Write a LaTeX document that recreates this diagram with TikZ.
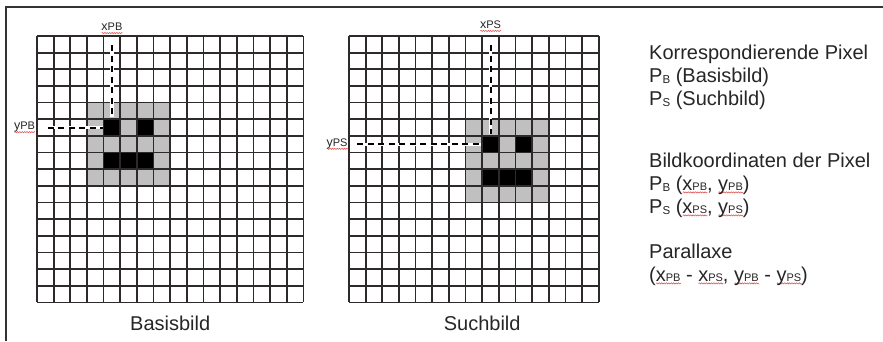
\documentclass[tikz,border=0pt]{standalone}
\usepackage{fontspec}
\setmainfont{Liberation Sans}
\usetikzlibrary{decorations.pathmorphing}
\definecolor{gridc}{HTML}{2E2A2A}
\definecolor{cellgray}{HTML}{C0C0C0}
\definecolor{framec}{HTML}{333333}
\definecolor{txtc}{HTML}{262626}
\definecolor{wavec}{HTML}{E05050}
\newsavebox\wvbox
\newdimen\wvw
\newcommand\wv[1]{\sbox\wvbox{#1}\wvw=\wd\wvbox\relax\rlap{\raisebox{-2.4pt}{\tikz[x=1pt,y=1pt,baseline=0pt]{\draw[draw=wavec, line width=0.55pt, decorate, decoration={snake, amplitude=0.6pt, segment length=2.4pt}] (0,0) -- (\wvw,0);}}}\usebox\wvbox}
\newcommand\sbs[1]{{\fontsize{11}{11}\selectfont #1}}
\newcommand\lsb[1]{\raisebox{-1.5pt}{\fontsize{11.5}{11.5}\selectfont #1}}
\tikzset{
  gridline/.style={draw=gridc, line width=1.7pt},
  grayfill/.style={fill=cellgray},
  blackfill/.style={fill=black},
  dashline/.style={draw=black, line width=2pt, dash pattern=on 6pt off 4.5pt},
  dashbg/.style={draw=white, line width=3.4pt},
  frameline/.style={draw=framec, line width=1.3pt},
  maintext/.style={font=\fontsize{20}{20}\selectfont, text=txtc, inner sep=0pt, anchor=base west},
  captext/.style={font=\fontsize{20}{20}\selectfont, text=txtc, inner sep=0pt, anchor=base},
  axlabel/.style={font=\fontsize{12.5}{12.5}\selectfont, text=txtc, inner sep=0pt}
}
\newcommand\cs{16.65}
\begin{document}
\begin{tikzpicture}[x=1pt,y=-1pt]
\useasboundingbox (0,0) rectangle (883,341);
\fill[white] (0,0) rectangle (883,341);
\draw[frameline] (6,341) -- (6,7) -- (883,7);

% ---------- Basisbild grid ----------
\begin{scope}[shift={(37,36)}, x=\cs pt, y=-\cs pt]
  \fill[grayfill] (3,4) rectangle (8,9);
  \fill[blackfill] (4,5) rectangle (5,6);
  \fill[blackfill] (6,5) rectangle (7,6);
  \fill[blackfill] (4,7) rectangle (7,8);
  \foreach \i in {0,...,16} {\draw[gridline] (\i,0) -- (\i,16);}
  \foreach \j in {0,...,16} {\draw[gridline] (0,\j) -- (16,\j);}
  \coordinate (bvs) at (4.5,0.55);
  \coordinate (bve) at (4.5,4.88);
  \coordinate (bhs) at (0.65,5.5);
  \coordinate (bhe) at (3.95,5.5);
  \node[axlabel] (xpb) at (4.5,-0.45) {\wv{x\sbs{PB}}};
  \node[axlabel] (ypb) at (-0.75,5.5) {\wv{y\sbs{PB}}};
  \node[captext] (cb) at (8,17.7) {Basisbild};
\end{scope}
\draw[dashbg] (bvs) -- (bve);
\draw[dashline] (bvs) -- (bve);
\draw[dashbg] (bhs) -- (bhe);
\draw[dashline] (bhs) -- (bhe);

% ---------- Suchbild grid ----------
\begin{scope}[shift={(349,36)}, x=\cs pt, y=-\cs pt]
  \fill[grayfill] (7,5) rectangle (12,10);
  \fill[blackfill] (8,6) rectangle (9,7);
  \fill[blackfill] (10,6) rectangle (11,7);
  \fill[blackfill] (8,8) rectangle (11,9);
  \foreach \i in {0,...,15} {\draw[gridline] (\i,0) -- (\i,16);}
  \foreach \j in {0,...,16} {\draw[gridline] (0,\j) -- (15,\j);}
  \coordinate (svs) at (8.5,0.55);
  \coordinate (sve) at (8.5,5.88);
  \coordinate (shs) at (0.5,6.5);
  \coordinate (she) at (7.95,6.5);
  \node[axlabel] (xps) at (8.5,-0.58) {\wv{x\sbs{PS}}};
  \node[axlabel] (yps) at (-0.72,6.5) {\wv{y\sbs{PS}}};
  \node[captext] (cs) at (8,17.7) {Suchbild};
\end{scope}
\draw[dashbg] (svs) -- (sve);
\draw[dashline] (svs) -- (sve);
\draw[dashbg] (shs) -- (she);
\draw[dashline] (shs) -- (she);

% ---------- explanation text ----------
\node[maintext] (t1) at (649,59) {Korrespondierende Pixel};
\node[maintext] (t2) at (649,82) {P\lsb{B} (Basisbild)};
\node[maintext] (t3) at (649,105) {P\lsb{S} (Suchbild)};
\node[maintext] (t4) at (649,167) {Bildkoordinaten der Pixel};
\node[maintext] (t5) at (649,190) {P\lsb{B} (\wv{x\sbs{PB}}, \wv{y\sbs{PB}})};
\node[maintext] (t6) at (649,213) {P\lsb{S} (\wv{x\sbs{PS}}, \wv{y\sbs{PS}})};
\node[maintext] (t7) at (649,258) {Parallaxe};
\node[maintext] (t8) at (649,281) {(\wv{x\sbs{PB}} - \wv{x\sbs{PS}}, \wv{y\sbs{PB}} - \wv{y\sbs{PS}})};
\end{tikzpicture}
\end{document}
